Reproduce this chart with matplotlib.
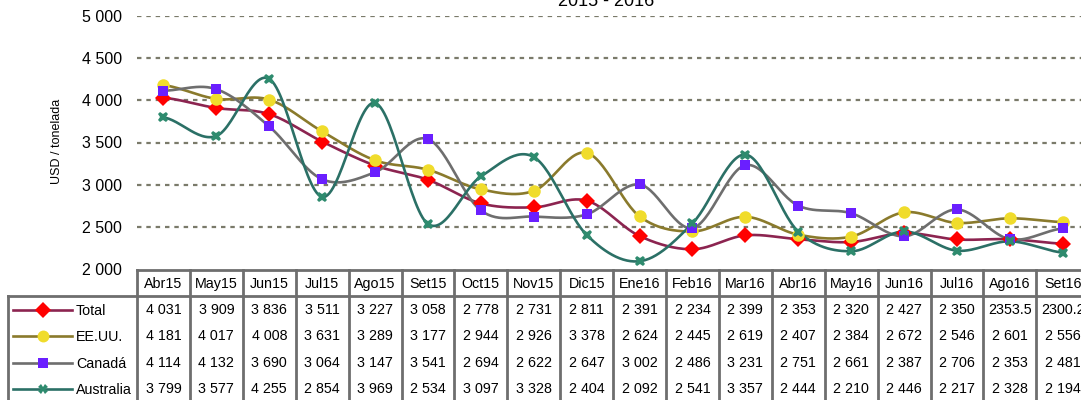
import numpy as np
import matplotlib.pyplot as plt

# ---------------------------------------------------------------------------
# data (USD / tonelada, 2015 - 2016)
meses = ["Abr15", "May15", "Jun15", "Jul15", "Ago15", "Set15", "Oct15", "Nov15",
         "Dic15", "Ene16", "Feb16", "Mar16", "Abr16", "May16", "Jun16", "Jul16",
         "Ago16", "Set16"]

total = [4031, 3909, 3836, 3511, 3227, 3058, 2778, 2731, 2811, 2391, 2234, 2399,
         2353, 2320, 2427, 2350, 2353.5, 2300.2]
eeuu = [4181, 4017, 4008, 3631, 3289, 3177, 2944, 2926, 3378, 2624, 2445, 2619,
        2407, 2384, 2672, 2546, 2601, 2556]
canada = [4114, 4132, 3690, 3064, 3147, 3541, 2694, 2622, 2647, 3002, 2486, 3231,
          2751, 2661, 2387, 2706, 2353, 2481]
australia = [3799, 3577, 4255, 2854, 3969, 2534, 3097, 3328, 2404, 2092, 2541, 3357,
             2444, 2210, 2446, 2217, 2328, 2194]

nombres = ["Total", "EE.UU.", "Canadá", "Australia"]
series = [total, eeuu, canada, australia]

# styles: line colour, marker, marker colour, marker size
estilos = [("#8c2450", "D", "#ff0000", 8.5),
           ("#8a7a2c", "o", "#f0dc2c", 9),
           ("#6e6e6e", "s", "#6a1fff", 7),
           ("#2b7066", "X", "#2e8b6e", 7.5)]

plt.rcParams["font.family"] = ["Liberation Sans", "DejaVu Sans"]


def fmt(v):
    # thousands with a space, like the source sheet
    if float(v).is_integer():
        return f"{int(v):,}".replace(",", " ")
    return str(v)


def suave(x, y, n=30):
    # Catmull-Rom curve (same idea as Excel "smoothed line")
    x = np.asarray(x, float)
    y = np.asarray(y, float)
    px = np.concatenate([[2 * x[0] - x[1]], x, [2 * x[-1] - x[-2]]])
    py = np.concatenate([[y[0]], y, [y[-1]]])
    xs, ys = [], []
    t = np.linspace(0, 1, n)
    for i in range(1, len(px) - 2):
        for p, out in ((px, xs), (py, ys)):
            p0, p1, p2, p3 = p[i - 1], p[i], p[i + 1], p[i + 2]
            b1 = p1 + (p2 - p0) / 6
            b2 = p2 - (p3 - p1) / 6
            out.append((1 - t) ** 3 * p1 + 3 * (1 - t) ** 2 * t * b1
                       + 3 * (1 - t) * t ** 2 * b2 + t ** 3 * p2)
    return np.concatenate(xs), np.concatenate(ys)


W, H = 1081, 400
fig = plt.figure(figsize=(W / 100, H / 100), dpi=100)

x0, colw = 137, 52.9
ncol = len(meses)
y_top, y_bot = 16, 269

ax = fig.add_axes([x0 / W, 1 - y_bot / H, ncol * colw / W, (y_bot - y_top) / H])
ax.set_xlim(0, ncol)
ax.set_ylim(2000, 5000)
xs = np.arange(ncol) + 0.5

for s, (lc, mk, mc, ms) in zip(series, estilos):
    cx, cy = suave(xs, s)
    ax.plot(cx, cy, color=lc, lw=1.9, zorder=3, solid_capstyle="round")
    ax.plot(xs, s, ls="none", marker=mk, color=mc, markersize=ms,
            markeredgewidth=0, zorder=4, clip_on=False)

ax.set_yticks(np.arange(2000, 5001, 500))
ax.set_yticklabels([fmt(v) for v in np.arange(2000, 5001, 500)], fontsize=11.5)
ax.tick_params(axis="y", length=0, pad=10.8)
ax.set_xticks([])
for sp in ax.spines.values():
    sp.set_visible(False)
for v in np.arange(2500, 5001, 500):
    ax.axhline(v, color="#7a7a6a", lw=1.6, ls=(0, (2, 2.2)), zorder=1)

fig.text(57 / W, 1 - 141 / H, "USD / tonelada", rotation=90, ha="center",
         va="center", fontsize=9)
fig.text(606 / W, 1 - 6 / H, "2015 - 2016", ha="center", va="baseline",
         fontsize=13)

# data table under the chart, drawn in pixel coordinates
tb = fig.add_axes([0, 0, 1, 1], zorder=5)
tb.set_xlim(0, W)
tb.set_ylim(H, 0)
tb.axis("off")
tb.patch.set_alpha(0)

gris = "#6e6e6e"
lw = 2
hdr_top, hdr_bot = 269.5, 296
row_h = 26.3
x_right = x0 + ncol * colw

tb.plot([x0, x_right], [hdr_top, hdr_top], color=gris, lw=lw)
tb.plot([8, x_right], [hdr_bot, hdr_bot], color=gris, lw=lw)
tb.plot([8, 8], [hdr_bot, H + 5], color=gris, lw=lw)
for j in range(ncol + 1):
    xx = x0 + j * colw
    tb.plot([xx, xx], [hdr_top, H + 5], color=gris, lw=lw)

for j, m in enumerate(meses):
    tb.text(x0 + (j + 0.5) * colw, (hdr_top + hdr_bot) / 2 + 1, m,
            ha="center", va="center", fontsize=10.3)

for i, (nom, s, (lc, mk, mc, ms)) in enumerate(zip(nombres, series, estilos)):
    yc = hdr_bot + (i + 0.5) * row_h + 1
    tb.plot([13, 72], [yc, yc], color=lc, lw=1.9)
    tb.plot([43], [yc], marker=mk, color=mc, markersize=ms * 0.95,
            markeredgewidth=0)
    tb.text(76, yc + 1, nom, ha="left", va="center", fontsize=10.3)
    for j, v in enumerate(s):
        tb.text(x0 + (j + 0.5) * colw, yc, fmt(v), ha="center", va="center",
                fontsize=10.3)

fig.savefig("out.png", dpi=100)
